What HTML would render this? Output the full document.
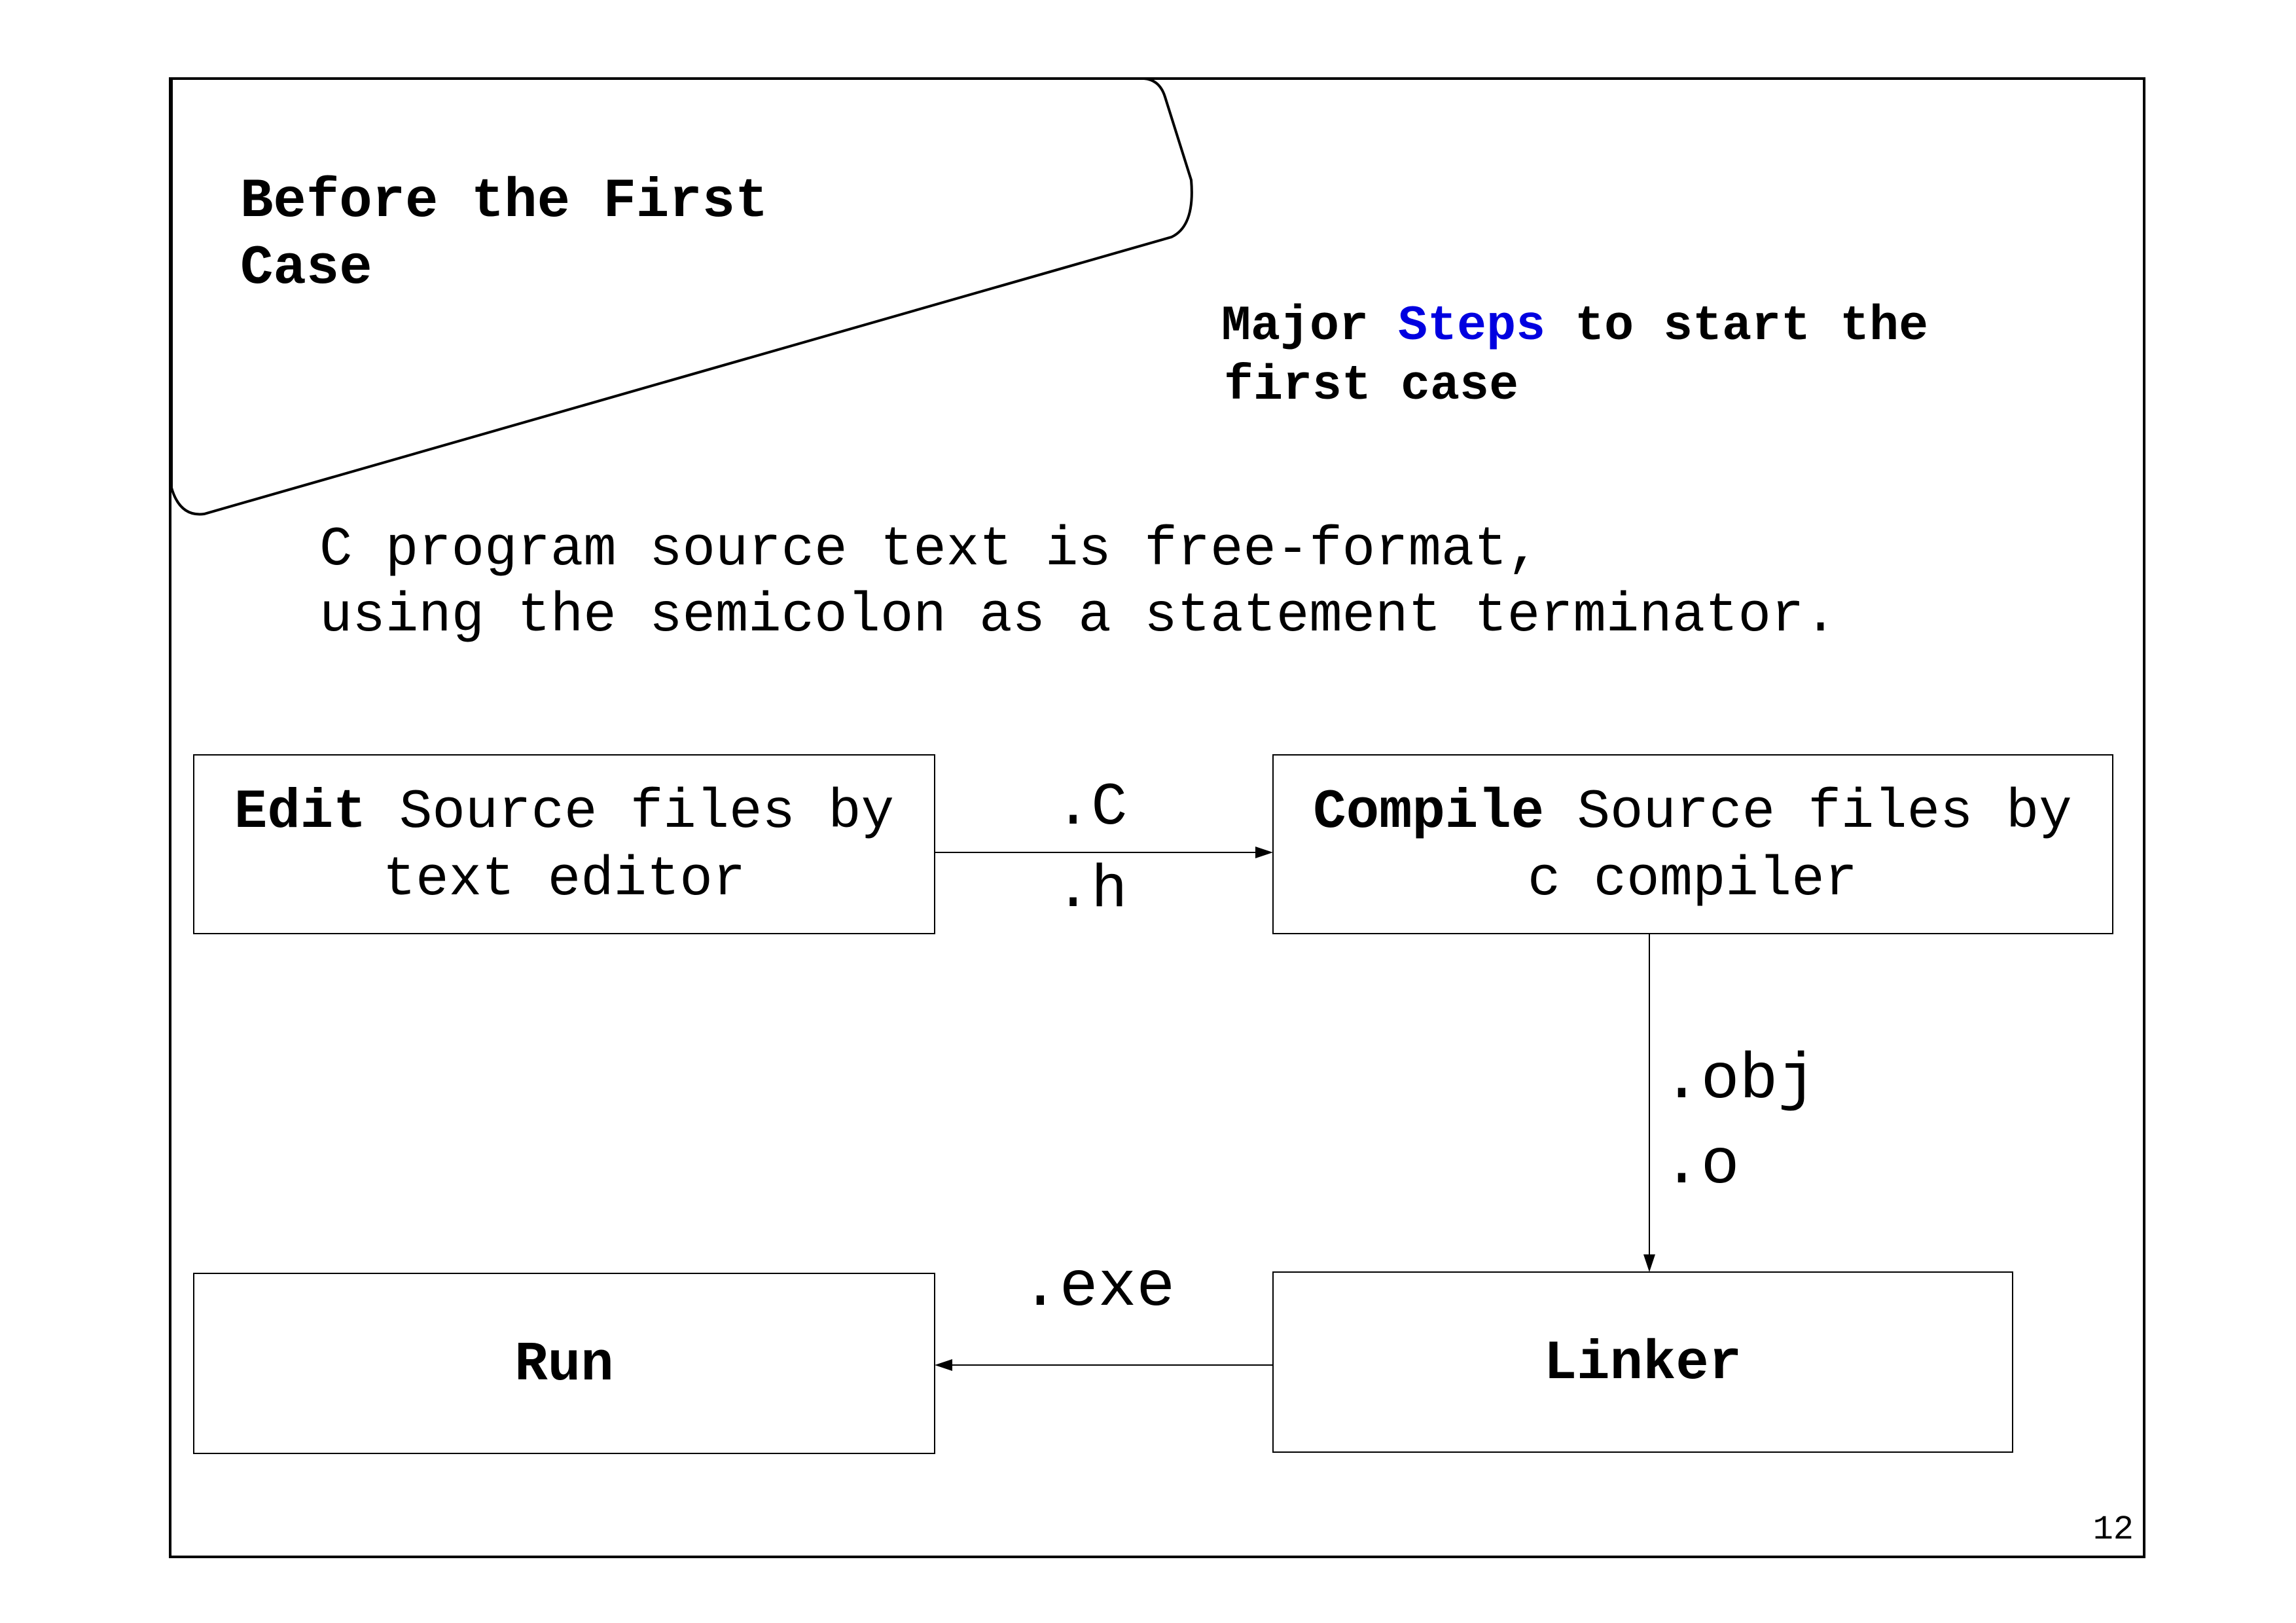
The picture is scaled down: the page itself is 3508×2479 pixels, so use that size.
<!DOCTYPE html>
<html><head><style>html,body{margin:0;padding:0;background:#fff}svg{display:block}</style></head><body>
<svg width="3508" height="2479" viewBox="0 0 3508 2479" xmlns="http://www.w3.org/2000/svg" font-family="Liberation Mono, monospace">
<defs><marker id="a" markerWidth="10" markerHeight="10" refX="9" refY="5" orient="auto" markerUnits="userSpaceOnUse"><path d="M0,0 L0,0"/></marker></defs>
<rect x="260" y="120" width="3016" height="2258" fill="none" stroke="#000" stroke-width="4"/>
<path d="M262,120 L1748,120 Q1772,122 1780,148 L1820,275 Q1826,345 1790,362 L312,785 Q275,790 262,745 Z" fill="#fff" stroke="#000" stroke-width="4"/>
<text font-weight="bold" font-size="84" x="367" y="330">Before the First</text>
<text font-weight="bold" font-size="84" x="367" y="432">Case</text>
<text font-weight="bold" font-size="75" x="1866" y="518">Major <tspan fill="#0000e0">Steps</tspan> to start the</text>
<text font-weight="bold" font-size="75" x="1870" y="609">first case</text>
<text font-size="84" x="488" y="862">C program source text is free-format,</text>
<text font-size="84" x="488" y="963">using the semicolon as a statement terminator.</text>
<g fill="none" stroke="#000" stroke-width="2">
<rect x="296" y="1153" width="1132" height="273"/>
<rect x="1945" y="1153" width="1283" height="273"/>
<rect x="296" y="1945" width="1132" height="275"/>
<rect x="1945" y="1943" width="1130" height="275"/>
<line x1="1428" y1="1302" x2="1928" y2="1302"/>
<line x1="2520" y1="1426" x2="2520" y2="1926"/>
<line x1="1945" y1="2085" x2="1446" y2="2085"/>
</g>
<path d="M1945,1302 L1918,1293 L1918,1311 Z"/>
<path d="M2520,1943 L2511,1916 L2529,1916 Z"/>
<path d="M1428,2085 L1455,2076 L1455,2094 Z"/>
<text font-size="84" x="862" y="1263" text-anchor="middle"><tspan font-weight="bold">Edit</tspan> Source files by</text>
<text font-size="84" x="862" y="1366" text-anchor="middle">text editor</text>
<text font-size="84" x="2586" y="1263" text-anchor="middle"><tspan font-weight="bold">Compile</tspan> Source files by</text>
<text font-size="84" x="2586" y="1366" text-anchor="middle">c compiler</text>
<text font-size="84" font-weight="bold" x="862" y="2107" text-anchor="middle">Run</text>
<text font-size="84" font-weight="bold" x="2510" y="2105" text-anchor="middle">Linker</text>
<text font-size="92" x="1612" y="1258">.C</text>
<text font-size="92" x="1612" y="1384">.h</text>
<text font-size="98" x="2540" y="1676">.obj</text>
<text font-size="98" x="2540" y="1806">.o</text>
<text font-size="98" x="1560" y="1993">.exe</text>
<text font-size="52" x="3260" y="2350" text-anchor="end">12</text>
</svg>
</body></html>
